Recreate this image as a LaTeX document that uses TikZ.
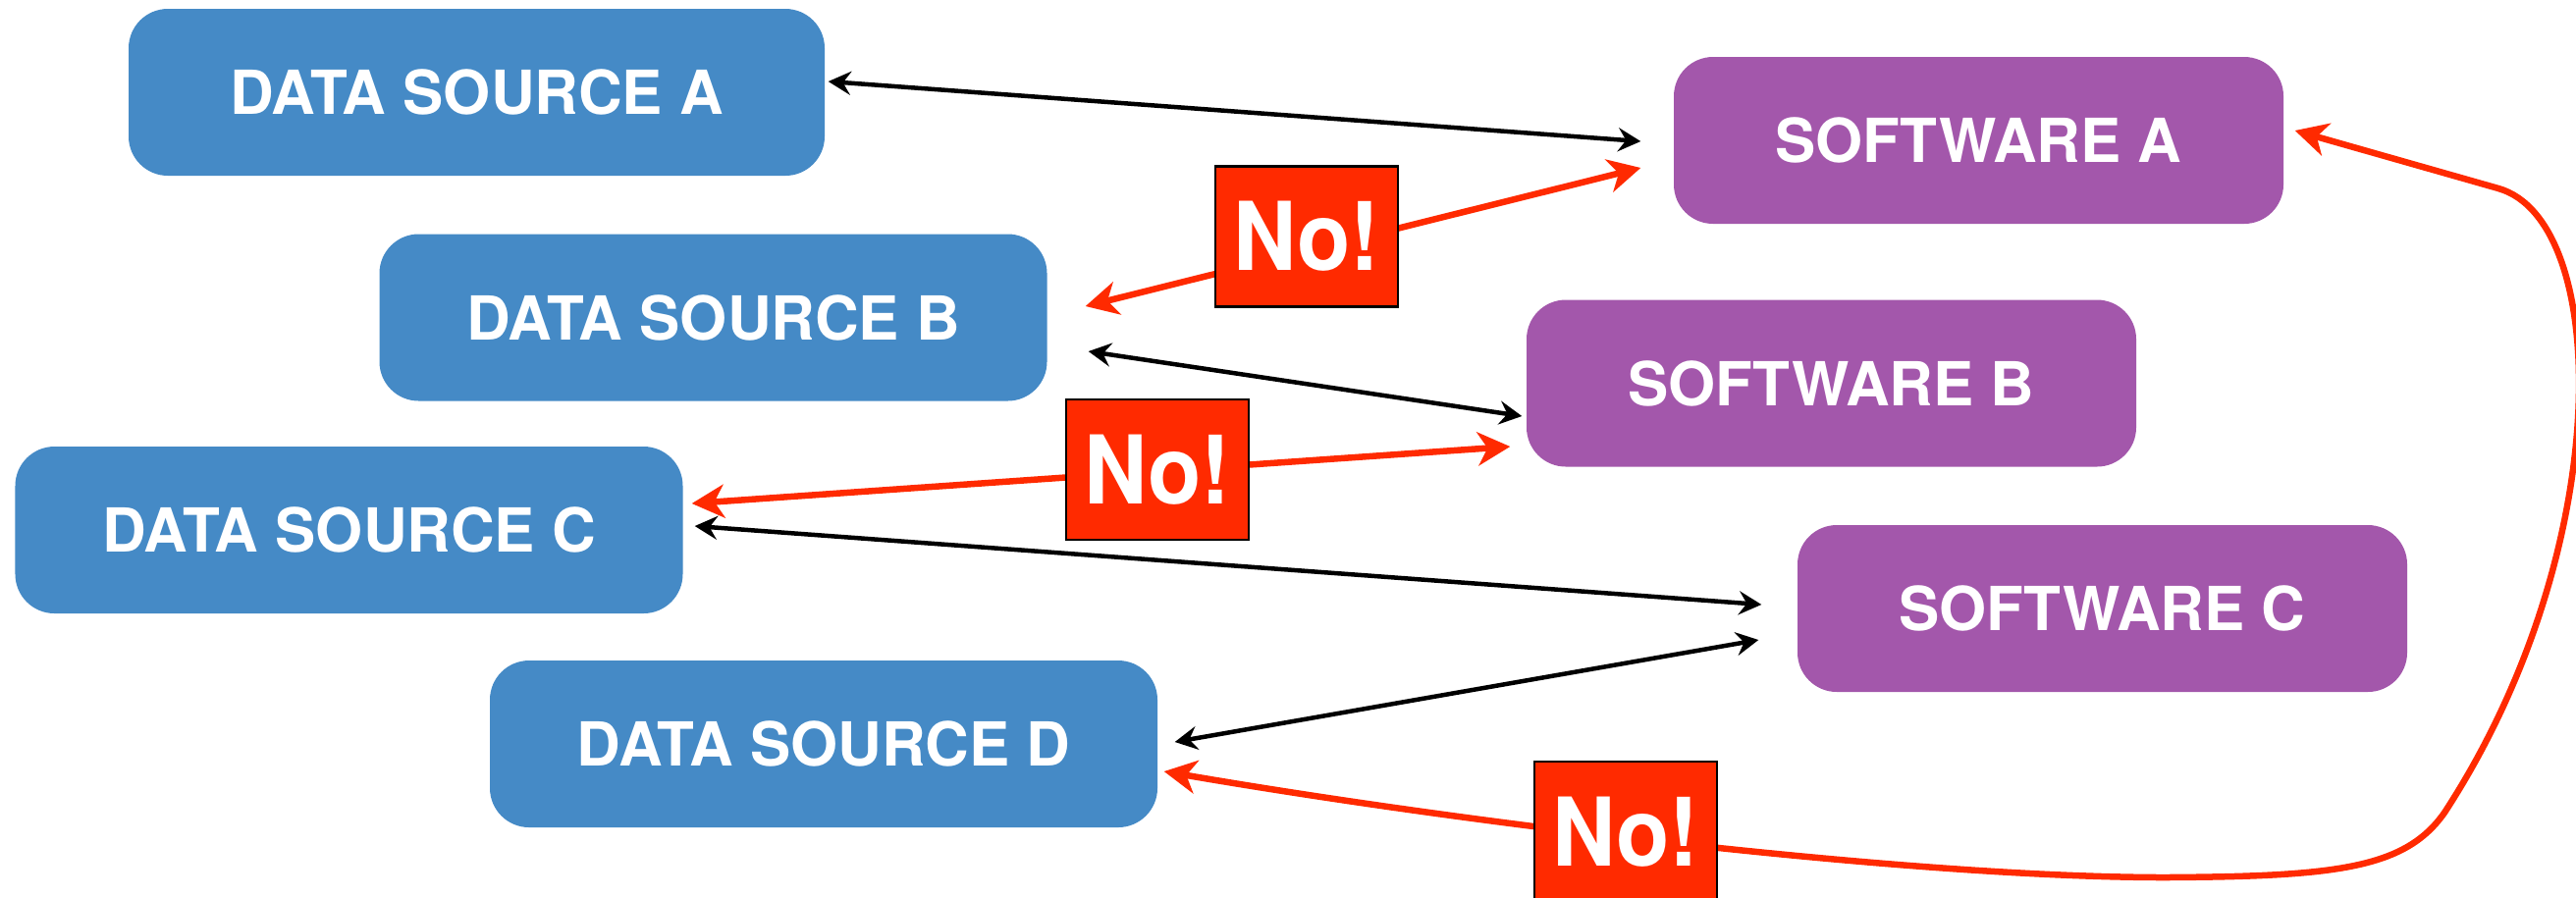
\documentclass[tikz,border=0pt]{standalone}
\usepackage{fontspec}
\setmainfont{TeX Gyre Heros}
\newfontfamily\nofont[FakeStretch=0.92]{TeX Gyre Heros}
\usetikzlibrary{arrows.meta, positioning}
\definecolor{sourceblue}{RGB}{69,138,198}
\definecolor{softpurple}{RGB}{163,87,171}
\definecolor{nored}{RGB}{255,42,0}

\begin{document}
\begin{tikzpicture}[
    source/.style={fill=sourceblue, rounded corners=4mm, minimum width=6.8cm, minimum height=1.7cm, text=white, font=\fontsize{17.6}{20}\selectfont\bfseries, align=center},
    software/.style={source, fill=softpurple, minimum width=6.21cm},
    nobox/.style={draw=black, line width=0.6pt, fill=nored, minimum width=1.86cm, minimum height=1.43cm, inner sep=0pt, text=white, font=\nofont\fontsize{27.5}{30}\selectfont\bfseries},
    link/.style={{Stealth[length=2.3mm, width=2.4mm, inset=0.8mm]}-{Stealth[length=2.3mm, width=2.4mm, inset=0.8mm]}, line width=0.45mm, black},
    nolink/.style={{Stealth[length=3.3mm, width=3.4mm, inset=1mm]}-{Stealth[length=3.3mm, width=3.4mm, inset=1mm]}, line width=0.65mm, nored}
]
    \useasboundingbox (0,0) rectangle (26.24,-9.14);

    % Data sources
    \node[source, minimum width=7.09cm] (dsA) at (4.855,-0.94) {DATA SOURCE A};
    \node[source] (dsB) at (7.265,-3.235) {DATA SOURCE B};
    \node[source] (dsC) at (3.555,-5.40) {DATA SOURCE C};
    \node[source] (dsD) at (8.39,-7.58) {DATA SOURCE D};

    % Software
    \node[software] (swA) at (20.155,-1.43) {SOFTWARE A};
    \node[software] (swB) at (18.655,-3.905) {SOFTWARE B};
    \node[software] (swC) at (21.415,-6.20) {SOFTWARE C};

    % Allowed links
    \draw[link] ([shift={(0.3mm,1.1mm)}]dsA.east) -- ([shift={(-3.3mm,-0.1mm)}]swA.west);
    \draw[link] ([shift={(4.15mm,-3.45mm)}]dsB.east) -- ([shift={(-0.4mm,-3.35mm)}]swB.west);
    \draw[link] ([shift={(1.15mm,0.4mm)}]dsC.east) -- ([shift={(-3.6mm,0.4mm)}]swC.west);
    \draw[link] ([shift={(1.7mm,0.2mm)}]dsD.east) -- ([shift={(-3.9mm,-3.2mm)}]swC.west);

    % Forbidden links
    \draw[nolink] ([shift={(3.85mm,1.15mm)}]dsB.east) -- ([shift={(-3.3mm,-2.8mm)}]swA.west);
    \draw[nolink] ([shift={(0.85mm,2.7mm)}]dsC.east) -- ([shift={(-1.6mm,-6.45mm)}]swB.west);
    \draw[nolink] ([shift={(1.1mm,1.0mm)}]swA.east) -- (25.45,-1.92)
        .. controls (26.60,-2.25) and (26.65,-5.60) .. (24.90,-8.28)
        .. controls (24.50,-8.85) and (23.80,-8.93) .. (22.06,-8.94)
        .. controls (19.50,-8.94) and (15.00,-8.40) .. ([shift={(0.6mm,-2.8mm)}]dsD.east);

    % Labels on the forbidden links
    \node[nobox] (no1) at (13.31,-2.41) {No!};
    \node[nobox] (no2) at (11.79,-4.785) {No!};
    \node[nobox] (no3) at (16.56,-8.475) {No!};
\end{tikzpicture}
\end{document}
